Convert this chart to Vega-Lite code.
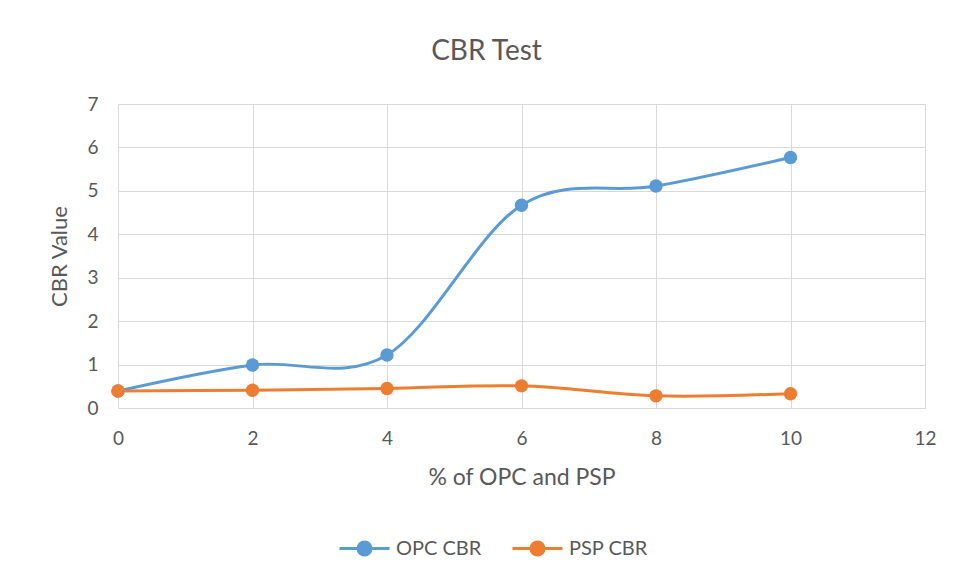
{
  "$schema": "https://vega.github.io/schema/vega-lite/v6.json",
  "autosize": {"type": "none"},
  "width": 807,
  "height": 304,
  "padding": {"left": 118, "top": 104, "right": 30, "bottom": 174},
  "background": "white",
  "title": {
    "text": "CBR Test",
    "font": "Lato",
    "fontSize": 28,
    "fontWeight": "normal",
    "color": "#595959",
    "anchor": "middle",
    "dx": -35,
    "offset": 29
  },
  "data": {
    "values": [
      {"pct": 0, "series": "OPC CBR", "cbr": 0.39},
      {"pct": 2, "series": "OPC CBR", "cbr": 0.99},
      {"pct": 4, "series": "OPC CBR", "cbr": 1.22},
      {"pct": 6, "series": "OPC CBR", "cbr": 4.67},
      {"pct": 8, "series": "OPC CBR", "cbr": 5.11},
      {"pct": 10, "series": "OPC CBR", "cbr": 5.77},
      {"pct": 0, "series": "PSP CBR", "cbr": 0.39},
      {"pct": 2, "series": "PSP CBR", "cbr": 0.41},
      {"pct": 4, "series": "PSP CBR", "cbr": 0.45},
      {"pct": 6, "series": "PSP CBR", "cbr": 0.51},
      {"pct": 8, "series": "PSP CBR", "cbr": 0.28},
      {"pct": 10, "series": "PSP CBR", "cbr": 0.33}
    ]
  },
  "encoding": {
    "x": {
      "field": "pct",
      "type": "quantitative",
      "scale": {"domain": [0, 12], "nice": false, "zero": false},
      "axis": {
        "title": "% of OPC and PSP",
        "values": [0, 2, 4, 6, 8, 10, 12],
        "grid": true,
        "gridColor": "#D9D9D9",
        "domainColor": "#D9D9D9",
        "ticks": false,
        "labelFlush": false,
        "labelFont": "Lato",
        "labelFontSize": 19,
        "labelColor": "#595959",
        "labelPadding": 21,
        "titleFont": "Lato",
        "titleFontSize": 23,
        "titleFontWeight": "normal",
        "titleColor": "#595959",
        "titlePadding": 18
      }
    },
    "y": {
      "field": "cbr",
      "type": "quantitative",
      "scale": {"domain": [0, 7], "nice": false},
      "axis": {
        "title": "CBR Value",
        "values": [0, 1, 2, 3, 4, 5, 6, 7],
        "grid": true,
        "gridColor": "#D9D9D9",
        "domain": false,
        "ticks": false,
        "labelFlush": false,
        "labelFont": "Lato",
        "labelFontSize": 19,
        "labelColor": "#595959",
        "labelPadding": 20,
        "titleFont": "Lato",
        "titleFontSize": 22,
        "titleFontWeight": "normal",
        "titleColor": "#595959",
        "titlePadding": 15
      }
    },
    "color": {
      "field": "series",
      "type": "nominal",
      "scale": {"domain": ["OPC CBR", "PSP CBR"], "range": ["#5B9BD5", "#ED7D31"]},
      "legend": {
        "title": null,
        "orient": "none",
        "direction": "horizontal",
        "legendX": 220,
        "legendY": 418,
        "symbolType": "M-1,0L1,0M-0.26,0A0.26,0.26 0 1,1 0.26,0A0.26,0.26 0 1,1 -0.26,0Z",
        "symbolSize": 2500,
        "symbolStrokeWidth": 3,
        "labelFont": "Lato",
        "labelFontSize": 20,
        "labelColor": "#595959",
        "labelOffset": 5,
        "columnPadding": 24
      }
    }
  },
  "layer": [
    {"mark": {"type": "line", "interpolate": "cardinal", "tension": 0, "strokeWidth": 3}},
    {"mark": {"type": "point", "filled": true, "opacity": 1, "size": 180}}
  ],
  "config": {"view": {"stroke": null}}
}
